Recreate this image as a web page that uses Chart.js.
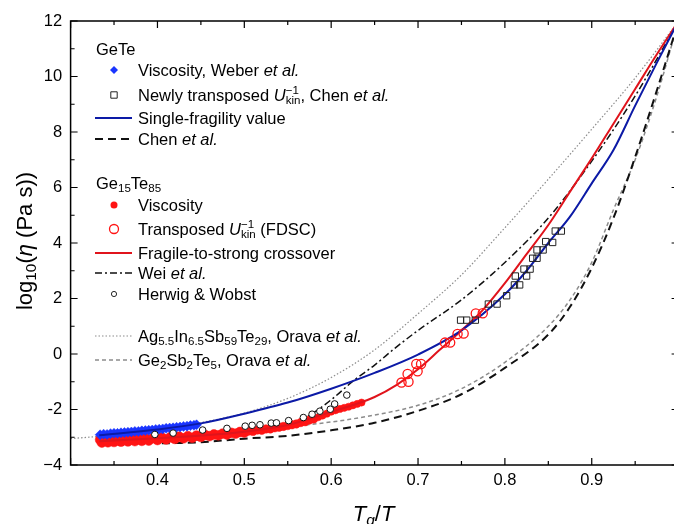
<!DOCTYPE html>
<html>
<head>
<meta charset="utf-8">
<script src="https://cdn.jsdelivr.net/npm/chart.js@4/dist/chart.umd.min.js"></script>
<style>
    html, body { margin: 0; padding: 0; background: #fff; overflow: hidden; }
    #wrap { width: 674px; height: 524px; overflow: hidden; position: relative; }
    #box { position: absolute; left: 0; top: 0; width: 700px; height: 524px; }
</style>
</head>
<body>
<div id="wrap"><div id="box"><canvas id="myChart"></canvas></div></div>
<script>
// axis limits (Tg/T and log10 viscosity)
var xLimits = [0.3, 1.0];
var yLimits = [-4, 12];

// GeTe
var weberVisc = [[0.334,-2.91],[0.338,-2.89],[0.342,-2.9],[0.346,-2.87],[0.35,-2.86],[0.354,-2.86],[0.358,-2.84],
    [0.362,-2.83],[0.366,-2.82],[0.37,-2.81],[0.374,-2.79],[0.378,-2.79],[0.382,-2.77],[0.386,-2.76],[0.39,-2.75],
    [0.394,-2.74],[0.398,-2.72],[0.402,-2.71],[0.406,-2.7],[0.41,-2.68],[0.414,-2.67],[0.418,-2.66],[0.422,-2.64],
    [0.426,-2.63],[0.43,-2.61],[0.434,-2.6],[0.438,-2.58],[0.442,-2.57],[0.445,-2.55]];
var chenSquares = [[0.749,1.22],[0.756,1.22],[0.766,1.22],[0.781,1.8],[0.791,1.8],[0.802,2.1],[0.811,2.49],
    [0.817,2.49],[0.812,2.81],[0.825,2.81],[0.822,3.06],[0.829,3.06],[0.832,3.45],[0.837,3.45],[0.837,3.75],
    [0.844,3.75],[0.847,4.05],[0.855,4.02],[0.858,4.43],[0.865,4.43]];
var singleFragility = [[0.333,-2.93],[0.4,-2.72],[0.45,-2.5],[0.5,-2.15],[0.55,-1.75],[0.6,-1.25],[0.65,-0.68],
    [0.7,-0.02],[0.75,0.85],[0.8,2.15],[0.825,3.0],[0.85,4.0],[0.875,4.95],[0.9,6.15],[0.925,7.35],[0.95,8.95],
    [0.975,10.5],[1.0,12]];
var chenLine = [[0.405,-3.22],[0.45,-3.18],[0.5,-3.05],[0.55,-2.95],[0.6,-2.75],[0.65,-2.48],[0.7,-2.05],
    [0.75,-1.45],[0.8,-0.5],[0.85,0.7],[0.875,1.7],[0.9,3.1],[0.925,4.9],[0.95,7.1],[0.975,9.5],[1.0,12]];

// Ge15Te85
var ge15Visc = [[0.334,-3.09],[0.336,-3.19],[0.34,-3.1],[0.343,-3.18],[0.347,-3.08],[0.35,-3.17],[0.354,-3.08],
    [0.358,-3.16],[0.362,-3.07],[0.366,-3.15],[0.37,-3.06],[0.374,-3.14],[0.378,-3.05],[0.382,-3.13],[0.386,-3.04],
    [0.39,-3.12],[0.395,-3.03],[0.4,-3.1],[0.405,-3.01],[0.41,-3.08],[0.415,-3.0],[0.42,-3.06],[0.425,-2.98],
    [0.43,-3.04],[0.435,-2.96],[0.44,-3.02],[0.445,-2.94],[0.45,-2.99],[0.455,-2.92],[0.46,-2.96],[0.465,-2.9],
    [0.47,-2.93],[0.475,-2.87],[0.48,-2.9],[0.485,-2.84],[0.49,-2.87],[0.495,-2.81],[0.5,-2.83],[0.505,-2.78],
    [0.51,-2.79],[0.515,-2.74],[0.52,-2.75],[0.525,-2.7],[0.53,-2.7],[0.535,-2.66],[0.54,-2.64],[0.545,-2.61],
    [0.55,-2.58],[0.555,-2.55],[0.56,-2.52],[0.565,-2.47],[0.57,-2.44],[0.575,-2.38],[0.58,-2.34],[0.585,-2.28],
    [0.59,-2.22],[0.595,-2.15],[0.6,-2.08],[0.605,-2.03],[0.61,-1.98],[0.615,-1.94],[0.62,-1.9],[0.625,-1.85],
    [0.63,-1.8],[0.635,-1.75]];
var fdscCircles = [[0.681,-1.03],[0.689,-1.0],[0.688,-0.72],[0.698,-0.36],[0.7035,-0.36],[0.6995,-0.62],
    [0.731,0.41],[0.737,0.41],[0.7455,0.72],[0.7525,0.74],[0.7665,1.46],[0.7745,1.47]];
var fsCrossover = [[0.333,-3.14],[0.4,-3.04],[0.45,-2.94],[0.5,-2.8],[0.55,-2.56],[0.6,-2.08],[0.625,-1.84],
    [0.65,-1.55],[0.675,-1.12],[0.7,-0.55],[0.725,0.15],[0.75,0.85],[0.775,1.6],[0.8,2.55],[0.825,3.6],
    [0.85,4.65],[0.875,5.85],[0.9,7.05],[0.925,8.3],[0.95,9.55],[0.975,10.8],[1.0,12]];
var weiLine = [[0.41,-3.15],[0.45,-3.08],[0.5,-2.88],[0.55,-2.5],[0.575,-2.2],[0.6,-1.65],[0.625,-0.98],
    [0.65,-0.4],[0.675,0.25],[0.7,0.85],[0.75,1.95],[0.8,3.3],[0.85,4.9],[0.9,6.95],[0.95,9.3],[1.0,12]];
var herwigWobst = [[0.397,-2.9],[0.418,-2.85],[0.452,-2.74],[0.48,-2.68],[0.501,-2.6],[0.509,-2.57],[0.518,-2.55],
    [0.531,-2.49],[0.537,-2.48],[0.551,-2.4],[0.568,-2.29],[0.578,-2.17],[0.587,-2.06],[0.599,-1.99],
    [0.604,-1.8],[0.618,-1.48]];

// Orava et al.
var aistLine = [[0.3,-3.05],[0.35,-2.92],[0.4,-2.73],[0.45,-2.47],[0.5,-2.13],[0.55,-1.6],[0.6,-0.85],
    [0.65,0.15],[0.7,1.45],[0.75,2.85],[0.8,4.55],[0.85,6.3],[0.9,8.1],[0.95,9.95],[1.0,12]];
var gstLine = [[0.41,-3.0],[0.45,-2.9],[0.5,-2.75],[0.55,-2.62],[0.6,-2.45],[0.65,-2.2],[0.7,-1.85],[0.75,-1.25],
    [0.8,-0.3],[0.85,1.0],[0.875,1.95],[0.9,3.3],[0.925,5.2],[0.95,7.0],[0.975,9.3],[1.0,12]];

var FONT = 'Arial, "Liberation Sans", sans-serif';
var BLUE = '#1a35ff', NAVY = '#0c1aa6', RED = '#ff1414', DRED = '#e0141c', GREY = '#8c8c8c';

var pts = function (arr) {
    return arr.map(function (p) { return { x: p[0], y: p[1] }; });
}

var setFont = function (ctx, size, italic) {
    ctx.font = (italic ? 'italic ' : '') + size + 'px ' + FONT;
}

// texto con subindices / superindices; devuelve la x final
var rich = function (ctx, x, y, parts, size, measureOnly) {
    parts.forEach(function (p) {
        if (p.sub !== undefined || p.sup !== undefined) {
            var s = size * 0.7, w = 0;
            setFont(ctx, s, p.i);
            if (p.sub !== undefined) {
                if (!measureOnly) ctx.fillText(p.sub, x, y + size * 0.2);
                w = ctx.measureText(p.sub).width;
            }
            if (p.sup !== undefined) {
                if (!measureOnly) ctx.fillText(p.sup, x, y - size * 0.4);
                w = Math.max(w, ctx.measureText(p.sup).width);
            }
            x += w;
        } else {
            setFont(ctx, size, p.i);
            if (!measureOnly) ctx.fillText(p.t, x, y);
            x += ctx.measureText(p.t).width;
        }
    });
    return x;
}

var marker = function (ctx, kind, x, y) {
    ctx.save();
    ctx.setLineDash([]);
    ctx.beginPath();
    if (kind == 'diamond') {
        ctx.moveTo(x - 4, y); ctx.lineTo(x, y - 4); ctx.lineTo(x + 4, y); ctx.lineTo(x, y + 4); ctx.closePath();
        ctx.fillStyle = BLUE; ctx.fill();
    } else if (kind == 'square') {
        ctx.rect(x - 3.2, y - 3.2, 6.4, 6.4);
        ctx.strokeStyle = '#222'; ctx.lineWidth = 1; ctx.stroke();
    } else if (kind == 'dot') {
        ctx.arc(x, y, 3.5, 0, Math.PI * 2);
        ctx.fillStyle = RED; ctx.fill();
    } else if (kind == 'ring') {
        ctx.arc(x, y, 4.5, 0, Math.PI * 2);
        ctx.strokeStyle = RED; ctx.lineWidth = 1.3; ctx.stroke();
    } else if (kind == 'small') {
        ctx.arc(x, y, 2.6, 0, Math.PI * 2);
        ctx.fillStyle = '#fff'; ctx.fill();
        ctx.strokeStyle = '#111'; ctx.lineWidth = 0.9; ctx.stroke();
    }
    ctx.restore();
}

var lineSample = function (ctx, style, x1, x2, y) {
    ctx.save();
    ctx.beginPath();
    ctx.strokeStyle = style.color;
    ctx.lineWidth = style.width;
    ctx.setLineDash(style.dash || []);
    ctx.moveTo(x1, y); ctx.lineTo(x2, y);
    ctx.stroke();
    ctx.restore();
}

var styles = {
    blue: { color: NAVY, width: 2 },
    chen: { color: '#111', width: 2, dash: [8, 5] },
    red: { color: DRED, width: 2 },
    wei: { color: '#111', width: 1.5, dash: [7, 3, 2, 3] },
    aist: { color: GREY, width: 1.2, dash: [1.5, 2] },
    gst: { color: GREY, width: 1.5, dash: [4, 3] }
};

var leyenda = [
    { y: 49, x: 96, head: [{ t: 'GeTe' }] },
    { y: 70, mk: 'diamond', txt: [{ t: 'Viscosity, Weber ' }, { t: 'et al.', i: 1 }] },
    { y: 95, mk: 'square', txt: [{ t: 'Newly transposed ' }, { t: 'U', i: 1 }, { sub: 'kin', sup: '\u22121' }, { t: ', Chen ' }, { t: 'et al.', i: 1 }] },
    { y: 118, ln: 'blue', txt: [{ t: 'Single-fragility value' }] },
    { y: 139, ln: 'chen', txt: [{ t: 'Chen ' }, { t: 'et al.', i: 1 }] },
    { y: 183, x: 96, head: [{ t: 'Ge' }, { sub: '15' }, { t: 'Te' }, { sub: '85' }] },
    { y: 205, mk: 'dot', txt: [{ t: 'Viscosity' }] },
    { y: 229, mk: 'ring', txt: [{ t: 'Transposed ' }, { t: 'U', i: 1 }, { sub: 'kin', sup: '\u22121' }, { t: ' (FDSC)' }] },
    { y: 253, ln: 'red', txt: [{ t: 'Fragile-to-strong crossover' }] },
    { y: 273, ln: 'wei', txt: [{ t: 'Wei ' }, { t: 'et al.', i: 1 }] },
    { y: 294, mk: 'small', txt: [{ t: 'Herwig & Wobst' }] },
    { y: 336, ln: 'aist', txt: [{ t: 'Ag' }, { sub: '5.5' }, { t: 'In' }, { sub: '6.5' }, { t: 'Sb' }, { sub: '59' }, { t: 'Te' }, { sub: '29' }, { t: ', Orava ' }, { t: 'et al.', i: 1 }] },
    { y: 360, ln: 'gst', txt: [{ t: 'Ge' }, { sub: '2' }, { t: 'Sb' }, { sub: '2' }, { t: 'Te' }, { sub: '5' }, { t: ', Orava ' }, { t: 'et al.', i: 1 }] }
];

var marcoPlugin = {
    id: 'marco',
    afterDraw: function (chart) {
        var ctx = chart.ctx, a = chart.chartArea;
        var sx = chart.scales.x, sy = chart.scales.y;
        ctx.save();
        ctx.strokeStyle = '#000';
        ctx.lineWidth = 1.5;
        ctx.setLineDash([]);
        ctx.strokeRect(a.left, a.top, a.right - a.left, a.bottom - a.top);
        // ticks hacia adentro en los cuatro lados
        ctx.lineWidth = 1.2;
        ctx.beginPath();
        for (var v = xLimits[0]; v <= xLimits[1] + 1e-9; v += 0.05) {
            var px = sx.getPixelForValue(v);
            var major = Math.abs(Math.round(v * 10) - v * 10) < 1e-6;
            var l = major ? 7 : 4;
            ctx.moveTo(px, a.bottom); ctx.lineTo(px, a.bottom - l);
            ctx.moveTo(px, a.top); ctx.lineTo(px, a.top + l);
        }
        for (var w = yLimits[0]; w <= yLimits[1]; w += 1) {
            var py = sy.getPixelForValue(w);
            var l2 = (w % 2 === 0) ? 7 : 4;
            ctx.moveTo(a.left, py); ctx.lineTo(a.left + l2, py);
            ctx.moveTo(a.right, py); ctx.lineTo(a.right - l2, py);
        }
        ctx.stroke();

        ctx.fillStyle = '#000';
        ctx.textBaseline = 'alphabetic';
        ctx.textAlign = 'left';
        // titulo eje x
        var xt = [{ t: 'T', i: 1 }, { sub: 'g', i: 1 }, { t: '/' }, { t: 'T', i: 1 }];
        var wx = rich(ctx, 0, 0, xt, 22, true);
        rich(ctx, (a.left + 678.6) / 2 - wx / 2 - 1, 521, xt, 22);
        // titulo eje y
        var yt = [{ t: 'log' }, { sub: '10' }, { t: '(' }, { t: '\u03b7', i: 1 }, { t: ' (Pa s))' }];
        var wy = rich(ctx, 0, 0, yt, 22, true);
        ctx.translate(32, (a.top + a.bottom) / 2 - 2);
        ctx.rotate(-Math.PI / 2);
        rich(ctx, -wy / 2, 0, yt, 22);
        ctx.restore();

        // leyenda
        ctx.save();
        ctx.fillStyle = '#000';
        ctx.textBaseline = 'alphabetic';
        var fs = 16.5, base = fs * 0.36;
        leyenda.forEach(function (r) {
            if (r.head) {
                rich(ctx, r.x, r.y + base, r.head, fs);
                return;
            }
            if (r.mk) marker(ctx, r.mk, 114, r.y);
            if (r.ln) lineSample(ctx, styles[r.ln], 95, 132, r.y);
            ctx.fillStyle = '#000';
            rich(ctx, 138, r.y + base, r.txt, fs);
        });
        ctx.restore();
    }
};

var lineDs = function (arr, st) {
    return {
        data: pts(arr),
        showLine: true,
        borderColor: st.color,
        borderWidth: st.width,
        borderDash: st.dash || [],
        pointRadius: 0,
        cubicInterpolationMode: 'monotone',
        fill: false
    };
}

var ctx = document.getElementById('myChart');
var myChart = new Chart(ctx, {
    type: 'scatter',
    data: {
        datasets: [
            {
                data: pts(herwigWobst), pointStyle: 'circle', pointRadius: 3.3,
                backgroundColor: '#fff', borderColor: '#111', borderWidth: 1
            },
            {
                data: pts(chenSquares), pointStyle: 'rect', pointRadius: 4.5,
                backgroundColor: 'rgba(0,0,0,0)', borderColor: '#222', borderWidth: 1
            },
            {
                data: pts(fdscCircles), pointStyle: 'circle', pointRadius: 4.6,
                backgroundColor: 'rgba(0,0,0,0)', borderColor: RED, borderWidth: 1.3
            },
            lineDs(singleFragility, styles.blue),
            lineDs(fsCrossover, styles.red),
            {
                data: pts(weberVisc), pointStyle: 'rectRot', pointRadius: 5,
                backgroundColor: BLUE, borderColor: BLUE, borderWidth: 0.5
            },
            {
                data: pts(ge15Visc), pointStyle: 'circle',
                pointRadius: function (c) {
                    var x = c.raw ? c.raw.x : 0;
                    return x > 0.58 ? 3.6 : (x > 0.5 ? 4.2 : 4.9);
                },
                backgroundColor: RED, borderColor: RED, borderWidth: 0.5
            },
            lineDs(weiLine, styles.wei),
            lineDs(chenLine, styles.chen),
            lineDs(gstLine, styles.gst),
            lineDs(aistLine, styles.aist)
        ]
    },
    plugins: [marcoPlugin],
    options: {
        responsive: true,
        maintainAspectRatio: false,
        animation: false,
        layout: { padding: { left: 0, top: 21, right: 21.4, bottom: 0 } },
        plugins: { legend: { display: false }, tooltip: { enabled: false } },
        scales: {
            x: {
                type: 'linear',
                min: xLimits[0],
                max: xLimits[1],
                grid: { display: false, drawTicks: false },
                border: { display: false },
                ticks: {
                    stepSize: 0.1,
                    padding: 6,
                    color: '#000',
                    font: { family: FONT, size: 16.5 },
                    callback: function (v) { return (v < 0.35 || v > 0.95) ? '' : v.toFixed(1); }
                },
                afterFit: function (s) { s.height = 59; }
            },
            y: {
                type: 'linear',
                min: yLimits[0],
                max: yLimits[1],
                grid: { display: false, drawTicks: false },
                border: { display: false },
                ticks: {
                    stepSize: 2,
                    padding: 8.5,
                    color: '#000',
                    font: { family: FONT, size: 16.5 },
                    callback: function (v) { return v == -4 ? '\u22124' : String(v); }
                },
                afterFit: function (s) { s.width = 70.6; }
            }
        }
    }
});
</script>
</body>
</html>
